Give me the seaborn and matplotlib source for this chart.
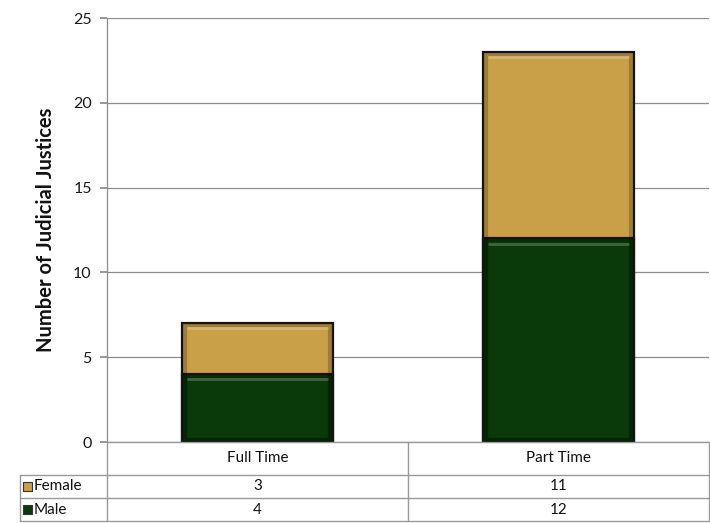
import matplotlib
matplotlib.use("Agg")
import matplotlib.pyplot as plt
import matplotlib.transforms as mtransforms
from matplotlib.patches import Rectangle
from matplotlib.lines import Line2D
import seaborn as sns
import pandas as pd

categories = ["Full Time", "Part Time"]
female = [3, 11]
male = [4, 12]
series_names = ["Female", "Male"]
y_ticks = [0, 5, 10, 15, 20, 25]

female_color = "#C9A048"
male_color = "#0A3A0A"
grid_color = "#8C8C8C"

sns.set_theme(style="white")
plt.rcParams["font.family"] = ["Lato", "DejaVu Sans"]

df = pd.DataFrame({"category": categories, "female": female, "male": male})
df["total"] = df["female"] + df["male"]

fig = plt.figure(figsize=(7.10, 5.23), dpi=100)
ax = fig.add_axes([107 / 710, 1 - 442 / 523, 602 / 710, 424 / 523])

# stacked bars: totals in the female colour, male portion on top of it
sns.barplot(data=df, x="category", y="total", color=female_color, width=0.5,
            saturation=1, ax=ax, zorder=3)
sns.barplot(data=df, x="category", y="male", color=male_color, width=0.5,
            saturation=1, ax=ax, zorder=4)

for p in list(ax.patches):
    p.set_edgecolor("#151515")
    p.set_linewidth(1.6)
    # soft bevel: dark inner rim with a light strip along the top
    x0, y0, w, h = p.get_x(), p.get_y(), p.get_width(), p.get_height()
    top_y = y0 + h
    ax.add_patch(Rectangle((x0 + 0.01, y0 + 0.1), w - 0.02, h - 0.2,
                           fill=False, edgecolor="black", alpha=0.22,
                           linewidth=3, zorder=5))
    ax.plot([x0 + 0.02, x0 + w - 0.02], [top_y - 0.3, top_y - 0.3],
            color="white", alpha=0.22, linewidth=2, zorder=5)

ax.set_xlim(-0.5, 1.5)
ax.set_ylim(0, 25)
ax.set_yticks(y_ticks)
ax.set_yticklabels([str(t) for t in y_ticks], fontsize=11.5, color="#1a1a1a")
ax.yaxis.grid(True, color=grid_color, linewidth=0.9)
ax.set_axisbelow(True)
ax.tick_params(axis="y", direction="out", length=5, color=grid_color, pad=6, left=True)
ax.set_xticks([])
ax.set_xlabel("")
ax.set_ylabel("Number of Judicial Justices", fontsize=14.5, fontweight="bold",
              labelpad=12, color="#111111")
for side in ["top", "right", "bottom"]:
    ax.spines[side].set_visible(False)
ax.spines["left"].set_color(grid_color)
ax.spines["left"].set_linewidth(0.9)

# data table under the axis
px_x = lambda v: v / 710
px_y = lambda v: 1 - v / 523
tbl_color = "#999999"
lw = 1.0
table_left, table_right = 20, 709
col_left = 107
row_edges = [442, 475, 498, 521]
blend = mtransforms.blended_transform_factory(ax.transData, fig.transFigure)

# horizontal rules
fig.add_artist(Line2D([px_x(col_left), px_x(table_right)], [px_y(442)] * 2,
                      color=tbl_color, lw=lw))
for ry in row_edges[1:]:
    fig.add_artist(Line2D([px_x(table_left), px_x(table_right)], [px_y(ry)] * 2,
                          color=tbl_color, lw=lw))
# vertical rules
fig.add_artist(Line2D([px_x(col_left)] * 2, [px_y(442), px_y(521)], color=tbl_color, lw=lw))
fig.add_artist(Line2D([px_x(table_left)] * 2, [px_y(475), px_y(521)], color=tbl_color, lw=lw))
fig.add_artist(Line2D([px_x(table_right)] * 2, [px_y(442), px_y(521)], color=tbl_color, lw=lw))
fig.add_artist(Line2D([0.5, 0.5], [px_y(442), px_y(521)], color=tbl_color, lw=lw,
                      transform=blend))

# header and value cells
for i, cat in enumerate(categories):
    fig.text(i, px_y(458.5), cat, transform=blend, ha="center", va="center",
             fontsize=11, color="#111111")
    fig.text(i, px_y(486.5), str(female[i]), transform=blend, ha="center",
             va="center", fontsize=11, color="#111111")
    fig.text(i, px_y(509.5), str(male[i]), transform=blend, ha="center",
             va="center", fontsize=11, color="#111111")

# row labels with colour keys
for name, color, yc in zip(series_names, [female_color, male_color], [486.5, 509.5]):
    fig.add_artist(Rectangle((px_x(23), px_y(yc + 4.5)), 9 / 710, 9 / 523,
                             facecolor=color, edgecolor="#333333", lw=0.8))
    fig.text(px_x(34), px_y(yc), name, ha="left", va="center", fontsize=11,
             color="#111111")

fig.savefig("out.png", dpi=100)
